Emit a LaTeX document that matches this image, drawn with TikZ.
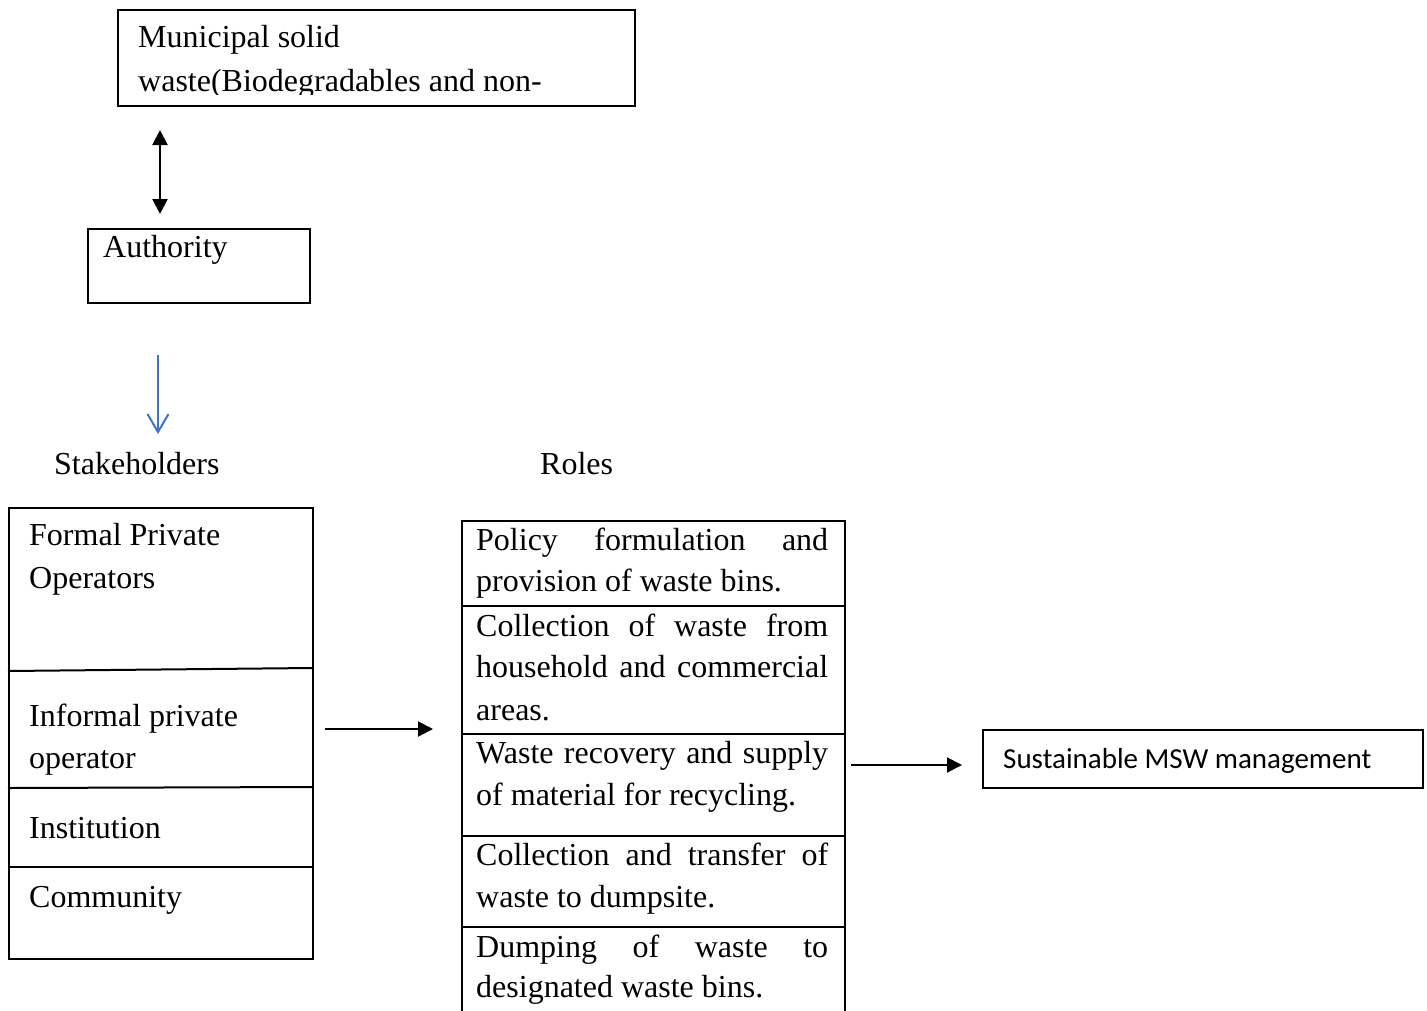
\documentclass[tikz,border=0pt]{standalone}
\usepackage{fontspec}
\setmainfont{Liberation Serif}
\newfontfamily\calfont{Carlito}
\usetikzlibrary{arrows.meta}
\definecolor{arrowblue}{HTML}{4472C4}
\newcommand\jline[1]{\hbox to 352pt{#1}}
\begin{document}
\begin{tikzpicture}[x=1pt,y=-1pt,
  box/.style={draw, line width=2pt, inner sep=0pt, anchor=north west},
  txt/.style={anchor=base west, inner sep=0pt, font=\fontsize{32}{42}\selectfont},
  divider/.style={line width=2pt},
  blackarrow/.style={line width=2pt, -{Triangle[length=15pt,width=15pt]}},
  dblarrow/.style={line width=2pt, {Triangle[length=15pt,width=15pt]}-{Triangle[length=15pt,width=15pt]}},
  bluearrow/.style={line width=2pt, draw=arrowblue, -{Straight Barb[length=18pt,width=21pt,line width=2pt]}}]
\useasboundingbox (0,0) rectangle (1427,1010);

% boxes
\node[box, minimum width=517pt, minimum height=96pt] (mun) at (117,9) {};
\node[box, minimum width=222pt, minimum height=74pt] (auth) at (87,228) {};
\node[box, minimum width=304pt, minimum height=451pt] (stake) at (8,507) {};
\node[box, minimum width=383pt, minimum height=500pt] (roles) at (461,520) {};
\node[box, minimum width=440pt, minimum height=58pt] (sus) at (982,729) {};

% dividers
\draw[divider] (8,671) -- (312,668);
\draw[divider] (8,788) -- (312,787);
\draw[divider] (8,867) -- (312,867);
\draw[divider] (461,606) -- (844,606);
\draw[divider] (461,734) -- (844,734);
\draw[divider] (461,836) -- (844,836);
\draw[divider] (461,927) -- (844,927);

% texts
\node[txt] (mun1) at (138,47) {Municipal solid};
\begin{scope}
\clip (118,60) rectangle (633,94);
\node[txt] (mun2) at (138,91) {waste(Biodegradables and non-};
\end{scope}
\node[txt] (authT) at (103,257) {Authority};
\node[txt] (stakeT) at (54,474) {Stakeholders};
\node[txt] (rolesT) at (540,474) {Roles};

\node[txt] (s1a) at (29,545) {Formal Private};
\node[txt] (s1b) at (29,588) {Operators};
\node[txt] (s2a) at (29,726) {Informal private};
\node[txt] (s2b) at (29,768) {operator};
\node[txt] (s3) at (29,838) {Institution};
\node[txt] (s4) at (29,907) {Community};

\node[txt] (r1a) at (476,550) {\jline{Policy\hfill formulation\hfill and}};
\node[txt] (r1b) at (476,591) {provision of waste bins.};
\node[txt] (r2a) at (476,636) {\jline{Collection\hfill of\hfill waste\hfill from}};
\node[txt] (r2b) at (476,677) {\jline{household\hfill and\hfill commercial}};
\node[txt] (r2c) at (476,720) {areas.};
\node[txt] (r3a) at (476,763) {\jline{Waste recovery and supply}};
\node[txt] (r3b) at (476,805) {of material for recycling.};
\node[txt] (r4a) at (476,865) {\jline{Collection\hfill and\hfill transfer\hfill of}};
\node[txt] (r4b) at (476,907) {waste to dumpsite.};
\node[txt] (r5a) at (476,957) {\jline{Dumping\hfill of\hfill waste\hfill to}};
\node[txt] (r5b) at (476,997) {designated waste bins.};

\node[anchor=base west, inner sep=0pt, font=\calfont\fontsize{29}{35}\selectfont] (susT) at (1003,768) {Sustainable MSW management};

% connector end points
\coordinate (d1) at (160,130);
\coordinate (d2) at (160,214);
\coordinate (b1) at (158,355);
\coordinate (b2) at (158,434);
\coordinate (a1) at (325,729);
\coordinate (a2) at (433,729);
\coordinate (c1) at (851,765);
\coordinate (c2) at (962,765);

\draw[dblarrow] (d1) -- (d2);
\draw[bluearrow] (b1) -- (b2);
\draw[blackarrow] (a1) -- (a2);
\draw[blackarrow] (c1) -- (c2);
\end{tikzpicture}
\end{document}
